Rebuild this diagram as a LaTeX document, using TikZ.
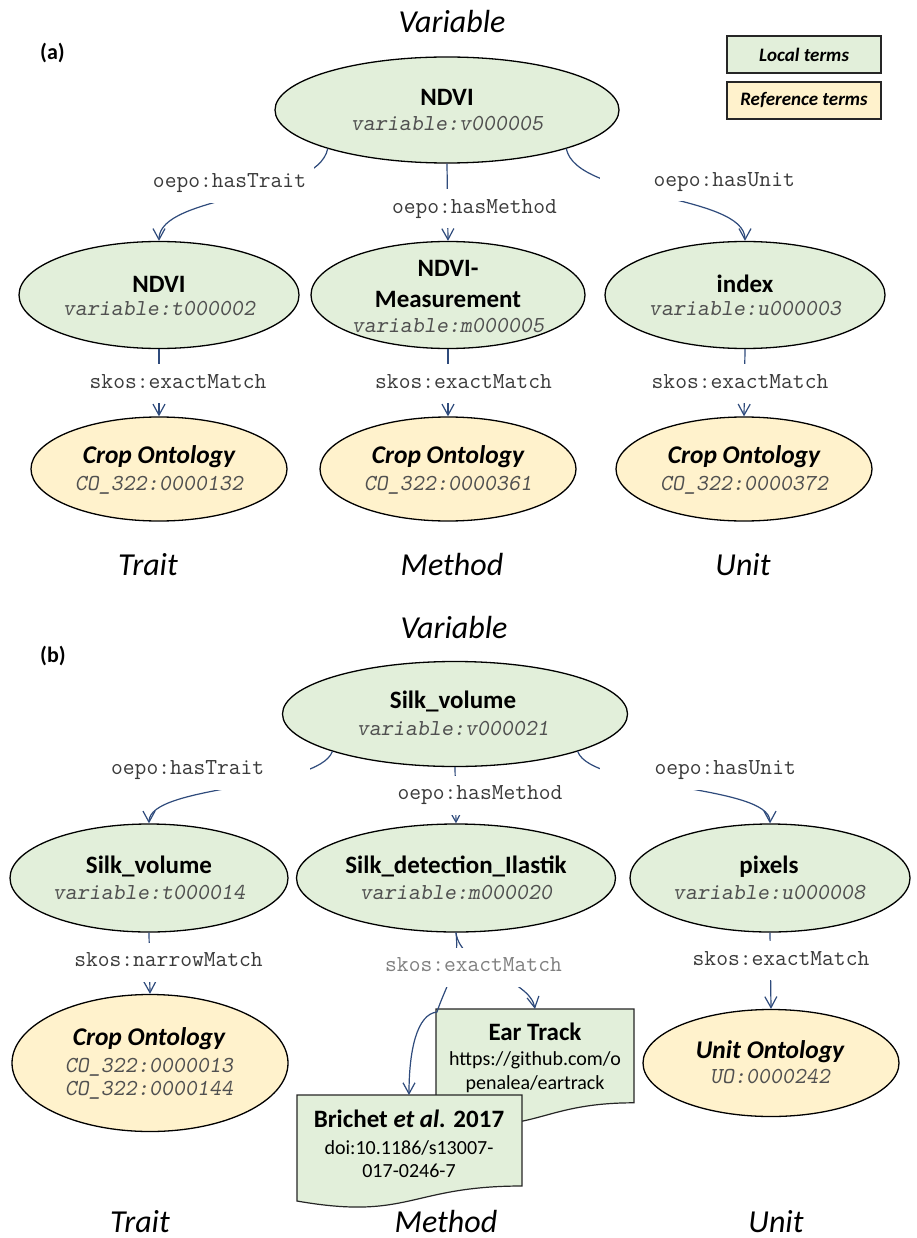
\documentclass[tikz,border=0pt]{standalone}
\usepackage{fontspec}
\setmainfont{Carlito}
\newfontfamily\SlMono{lmmonoslant10-regular.otf}
\usetikzlibrary{arrows.meta,shapes.geometric}
\definecolor{lgreen}{HTML}{E2EFDA}
\definecolor{lyellow}{HTML}{FFF2CC}
\definecolor{edgeblue}{HTML}{2F4B7C}
\definecolor{idgray}{HTML}{505050}
\definecolor{lblgray}{HTML}{3A3A3A}
\definecolor{softgray}{HTML}{808080}
\newcommand\NmFont{\fontsize{25}{30}\selectfont\bfseries}
\newcommand\RfFont{\fontsize{25.5}{30}\selectfont\bfseries\itshape}
\newcommand\IdFont{\SlMono\fontsize{22.86}{26}\selectfont}
\newcommand\LbFont{\ttfamily\fontsize{22.86}{26}\selectfont}
\newcommand\TtFont{\fontsize{32}{38}\selectfont\itshape}
\newcommand\LgFont{\fontsize{19}{23}\selectfont\bfseries\itshape}
\newcommand\DcFont{\fontsize{20}{24}\selectfont}
\newcommand\PanFont{\fontsize{22}{26}\selectfont\bfseries}
\tikzset{
  ell/.style={ellipse, draw=black, line width=1.3pt, inner sep=0pt},
  loc/.style={ell, fill=lgreen},
  ref/.style={ell, fill=lyellow},
  nm/.style={anchor=base, inner sep=0pt, font=\NmFont},
  rf/.style={anchor=base, inner sep=0pt, font=\RfFont},
  idt/.style={anchor=base, inner sep=0pt, font=\IdFont, text=idgray},
  dct/.style={anchor=base, inner sep=0pt, font=\DcFont},
  ttl/.style={anchor=base, inner sep=0pt, font=\TtFont},
  lbl/.style={fill=white, inner xsep=8pt, inner ysep=11pt, text height=13pt, text depth=4pt, font=\LbFont, text=lblgray},
  edge/.style={draw=edgeblue, line width=1.2pt, -{Straight Barb[length=11pt,width=12pt]}},
  legend/.style={draw=black!85, line width=1.2pt, minimum width=154pt, minimum height=37pt, inner sep=0pt, font=\LgFont},
  docshape/.style={draw=black!85, line width=1.2pt, fill=lgreen},
}
\begin{document}
\begin{tikzpicture}[x=1pt,y=-1pt]
\fill[white] (0,0) rectangle (917,1238);
\useasboundingbox (0,0) rectangle (917,1238);

% ---------------- panel (a) ----------------
\node[ttl] (aTitle) at (452,33) {Variable};
\node[anchor=base west, inner sep=0pt, font=\PanFont] (aPanel) at (40,60) {(a)};
\node[legend, fill=lgreen] (lg1) at (804,54.5) {Local terms};
\node[legend, fill=lyellow] (lg2) at (804,100.5) {Reference terms};

\node[loc, minimum width=344pt, minimum height=106pt] (va) at (447,110) {};
\node[loc, minimum width=280pt, minimum height=107pt] (ta) at (159,295) {};
\node[loc, minimum width=274pt, minimum height=107pt] (ma) at (448,295) {};
\node[loc, minimum width=280pt, minimum height=107pt] (ua) at (745,295) {};
\node[ref, minimum width=256pt, minimum height=104pt] (cta) at (159,469) {};
\node[ref, minimum width=256pt, minimum height=104pt] (cma) at (448,469) {};
\node[ref, minimum width=256pt, minimum height=104pt] (cua) at (744,469) {};

\node[nm] (vaN) at (447,106) {NDVI};
\node[idt] (vaI) at (447,131) {variable:v000005};
\node[nm] (taN) at (159,292) {NDVI};
\node[idt] (taI) at (159,316) {variable:t000002};
\node[nm] (maN1) at (448,277) {NDVI-};
\node[nm] (maN2) at (448,308) {Measurement};
\node[idt] (maI) at (448,332) {variable:m000005};
\node[nm] (uaN) at (745,292) {index};
\node[idt] (uaI) at (745,316) {variable:u000003};
\node[rf] (ctaN) at (159,463.5) {Crop Ontology};
\node[idt] (ctaI) at (159,490) {CO\_322:0000132};
\node[rf] (cmaN) at (448,463.5) {Crop Ontology};
\node[idt] (cmaI) at (448,490) {CO\_322:0000361};
\node[rf] (cuaN) at (744,463.5) {Crop Ontology};
\node[idt] (cuaI) at (744,490) {CO\_322:0000372};

\draw[edge] (va.198) .. controls +(-10,50) and +(0,-47) .. (ta.north);
\draw[edge] (va.south) -- (ma.north);
\draw[edge] (va.342) .. controls +(10,50) and +(0,-47) .. (ua.north);
\draw[edge] (ta.south) -- (cta.north);
\draw[edge] (ma.south) -- (cma.north);
\draw[edge] (ua.south) -- (cua.north);

\node[lbl] (aL1) at (229.5,183.5) {oepo:hasTrait};
\node[lbl] (aL2) at (474.5,209) {oepo:hasMethod};
\node[lbl, anchor=east] (aL3) at (803,182) {\hspace*{46pt}oepo:hasUnit};
\node[lbl] (aL4) at (178,383.5) {skos:exactMatch};
\node[lbl] (aL5) at (463.5,383.5) {skos:exactMatch};
\node[lbl] (aL6) at (740,383.5) {skos:exactMatch};

\node[ttl] (aT) at (148,575) {Trait};
\node[ttl] (aM) at (452,575) {Method};
\node[ttl] (aU) at (743,575) {Unit};

% ---------------- panel (b) ----------------
\node[ttl] (bTitle) at (454,638) {Variable};
\node[anchor=base west, inner sep=0pt, font=\PanFont] (bPanel) at (40,662) {(b)};

\node[loc, minimum width=345pt, minimum height=105pt] (vb) at (455,714) {};
\node[loc, minimum width=278pt, minimum height=108pt] (tb) at (149,878) {};
\node[loc, minimum width=319pt, minimum height=108pt] (mb) at (456,878) {};
\node[loc, minimum width=280pt, minimum height=108pt] (ub) at (770,878) {};
\node[ref, minimum width=276pt, minimum height=137pt] (ctb) at (150,1063) {};
\node[ref, minimum width=256pt, minimum height=107pt] (uob) at (771,1063) {};

\node[nm] (vbN) at (453,708) {Silk\_volume};
\node[idt] (vbI) at (453,735) {variable:v000021};
\node[nm] (tbN) at (149,873) {Silk\_volume};
\node[idt] (tbI) at (149,899) {variable:t000014};
\node[nm] (mbN) at (456,873) {Silk\_detection\_Ilastik};
\node[idt] (mbI) at (456,899) {variable:m000020};
\node[nm] (ubN) at (769,873) {pixels};
\node[idt] (ubI) at (769,899) {variable:u000008};
\node[rf] (ctbN) at (149,1045.5) {Crop Ontology};
\node[idt] (ctbI1) at (149,1072) {CO\_322:0000013};
\node[idt] (ctbI2) at (149,1095) {CO\_322:0000144};
\node[rf] (uobN) at (770,1058) {Unit Ontology};
\node[idt] (uobI) at (770,1083) {UO:0000242};

% document shapes
\draw[docshape] (436,1009) -- (634,1009) -- (634,1102.8)
  .. controls (535,1102.8) and (535,1138.6) .. (436,1118.3) -- cycle;
\coordinate (ettop) at (535,1009);
\node[nm] (etN) at (535,1040) {Ear Track};
\node[dct] (etU1) at (535,1065) {https://github.com/o};
\node[dct] (etU2) at (535,1089) {penalea/eartrack};

\draw[docshape] (297,1095) -- (522,1095) -- (522,1186)
  .. controls (409.5,1186) and (409.5,1220.7) .. (297,1201) -- cycle;
\coordinate (brtop) at (409,1095);
\node[nm] (brN) at (409,1127) {Brichet {\itshape et al.} 2017};
\node[dct] (brD1) at (409,1154) {doi:10.1186/s13007-};
\node[dct] (brD2) at (409,1177) {017-0246-7};

\coordinate (bend) at (437,1012);

\draw[edge] (vb.197) .. controls +(-14,38) and +(0,-39) .. (tb.north);
\draw[edge] (vb.south) -- (mb.north);
\draw[edge] (vb.343) .. controls +(14,38) and +(0,-39) .. (ub.north);
\draw[edge] (tb.south) -- (ctb.north);
\draw[edge] (ub.south) -- (uob.north);
\draw[edge] (mb.south) .. controls +(4,35) and +(-5,-30) .. (ettop);
\draw[edge] (mb.south) .. controls +(4,35) and +(8,-25) .. (bend)
  .. controls +(-20,2) and +(0,-45) .. (brtop);

\node[lbl, anchor=west] (bL1) at (103,770) {oepo:hasTrait\hspace*{38pt}};
\node[lbl] (bL2) at (480,795) {oepo:hasMethod};
\node[lbl, anchor=east] (bL3) at (804,770) {\hspace*{47pt}oepo:hasUnit};
\node[lbl] (bL4) at (168.5,962) {skos:narrowMatch};
\node[lbl, text=softgray] (bL5) at (473.5,967) {skos:exactMatch};
\node[lbl] (bL6) at (781,960.5) {skos:exactMatch};

\node[ttl] (bT) at (140,1232) {Trait};
\node[ttl] (bM) at (446,1232) {Method};
\node[ttl] (bU) at (776,1232) {Unit};
\end{tikzpicture}
\end{document}
